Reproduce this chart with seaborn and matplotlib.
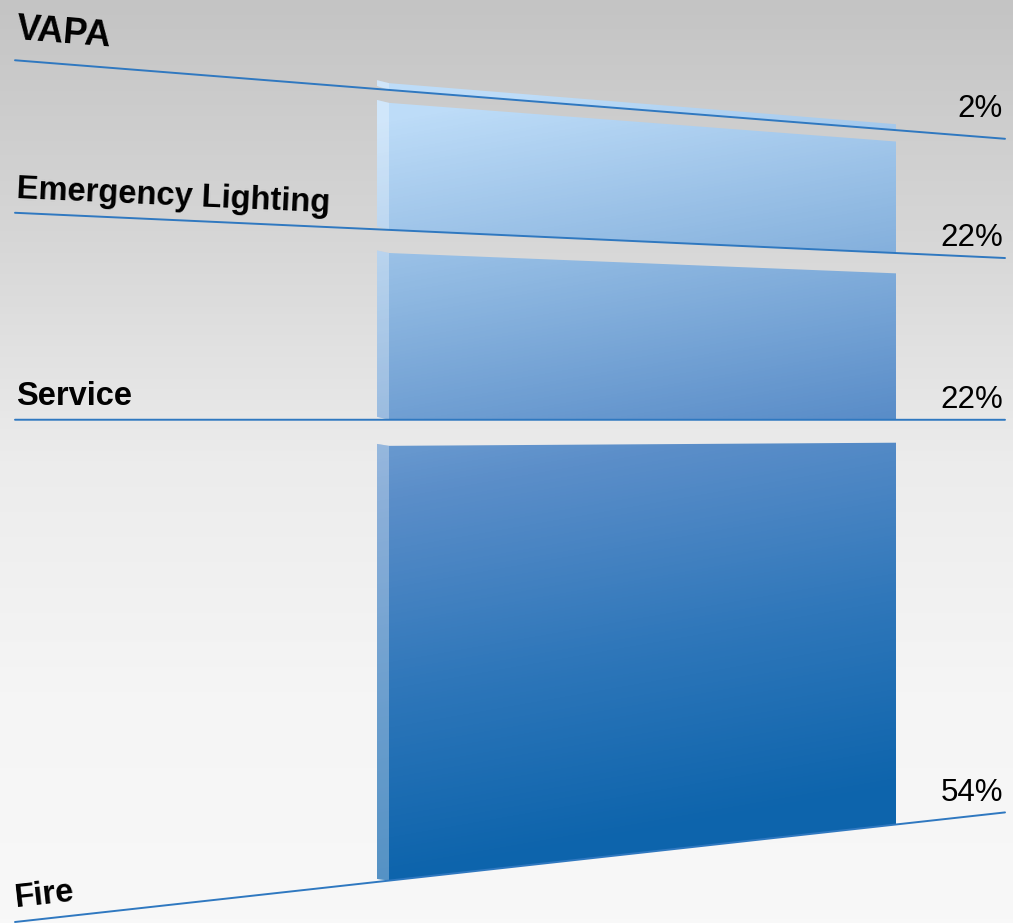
import numpy as np
import pandas as pd
import matplotlib
matplotlib.use("Agg")
import matplotlib.pyplot as plt
from matplotlib.patches import Polygon
import seaborn as sns

# stack data, from the bottom block to the top block
categories = ["Fire", "Service", "Emergency Lighting", "VAPA"]
shares = [54, 22, 22, 2]
pct_labels = ["54%", "22%", "22%", "2%"]

df = pd.DataFrame({"category": categories, "share": shares, "label": pct_labels})
gap = 3.3  # empty space between blocks, in share units
df["bottom"] = df["share"].cumsum() - df["share"] + np.arange(len(df)) * gap
df["top"] = df["bottom"] + df["share"]
h_max = df["top"].max()

# layout in pixels
W, H = 1013, 923
line_x0, line_x1 = 15, 1005
bar_x0, bar_x1 = 377, 896
side_w = 12
vp_x, horizon = 4550, 420
y_base, px_per_unit, bend = 922, 8.8, 98
name_size = {"VAPA": 26}
name_lift = {"VAPA": 21}
pct_lift = {"VAPA": 22}


def left_y(h):
    # screen y of stack height h on the near (left) edge, squeezed near the top
    return y_base - px_per_unit * h + bend * (h / h_max) ** 6


def scr_y(h, x):
    ly = left_y(h)
    return ly + (horizon - ly) * (x - line_x0) / (vp_x - line_x0)


sns.set_style("white")
plt.rcParams["font.family"] = ["Liberation Sans", "DejaVu Sans"]

fig = plt.figure(figsize=(W / 100, H / 100), dpi=100)
ax = fig.add_axes([0, 0, 1, 1])
ax.set_xlim(0, W)
ax.set_ylim(H, 0)
ax.axis("off")

yy, xx = np.mgrid[0:H, 0:W]

# gray backdrop
bg_cmap = sns.blend_palette(["#c4c4c4", "#d6d6d6", "#ececec", "#f5f5f5", "#f8f8f8"], as_cmap=True)
ax.imshow(yy / H, cmap=bg_cmap, extent=(0, W, H, 0), aspect="auto", zorder=0)

# blue shading for the blocks
bar_cmap = sns.blend_palette(["#bddcf8", "#8cb6e0", "#5b8ec9", "#2f77ba", "#0d64ac"], as_cmap=True)
shade = (yy - 90) / 760 + 0.12 * (xx - bar_x0) / (bar_x1 - bar_x0) - 0.04
shade = np.clip(shade, 0, 1)

for _, row in df.iterrows():
    xs = [bar_x0, bar_x0 + side_w, bar_x1]
    b = [scr_y(row["bottom"], x) for x in xs]
    t = [scr_y(row["top"], x) for x in xs]
    front = Polygon([(xs[1], t[1]), (xs[2], t[2]), (xs[2], b[2]), (xs[1], b[1])],
                    closed=True, facecolor="none", edgecolor="none")
    side = Polygon([(xs[0], t[0] - 2), (xs[1], t[1]), (xs[1], b[1]), (xs[0], b[0] - 3)],
                   closed=True, facecolor="none", edgecolor="none")
    for poly in (front, side):
        ax.add_patch(poly)
        im = ax.imshow(shade, cmap=bar_cmap, vmin=0, vmax=1, extent=(0, W, H, 0),
                       aspect="auto", zorder=2)
        im.set_clip_path(poly)
    ax.add_patch(Polygon(side.get_xy(), closed=True, facecolor="white",
                         edgecolor="none", alpha=0.3, zorder=3))

# label lines along the bottom of each block
for _, row in df.iterrows():
    name = row["category"]
    y0 = scr_y(row["bottom"], line_x0)
    y1 = scr_y(row["bottom"], line_x1)
    ax.plot([line_x0, line_x1], [y0, y1], color="#2f78c0", lw=1.4, zorder=4)
    ang = -np.degrees(np.arctan2(y1 - y0, line_x1 - line_x0))
    ax.text(line_x0 + 1, y0 - name_lift.get(name, 15), name,
            fontsize=name_size.get(name, 23.5), fontweight="bold",
            color="black", ha="left", va="baseline", rotation=ang,
            rotation_mode="anchor", zorder=5)
    ax.text(1003, scr_y(row["bottom"], 1003) - pct_lift.get(name, 12), row["label"],
            fontsize=22.5, color="black", ha="right", va="baseline", zorder=5)

fig.savefig("out.png", dpi=100)
